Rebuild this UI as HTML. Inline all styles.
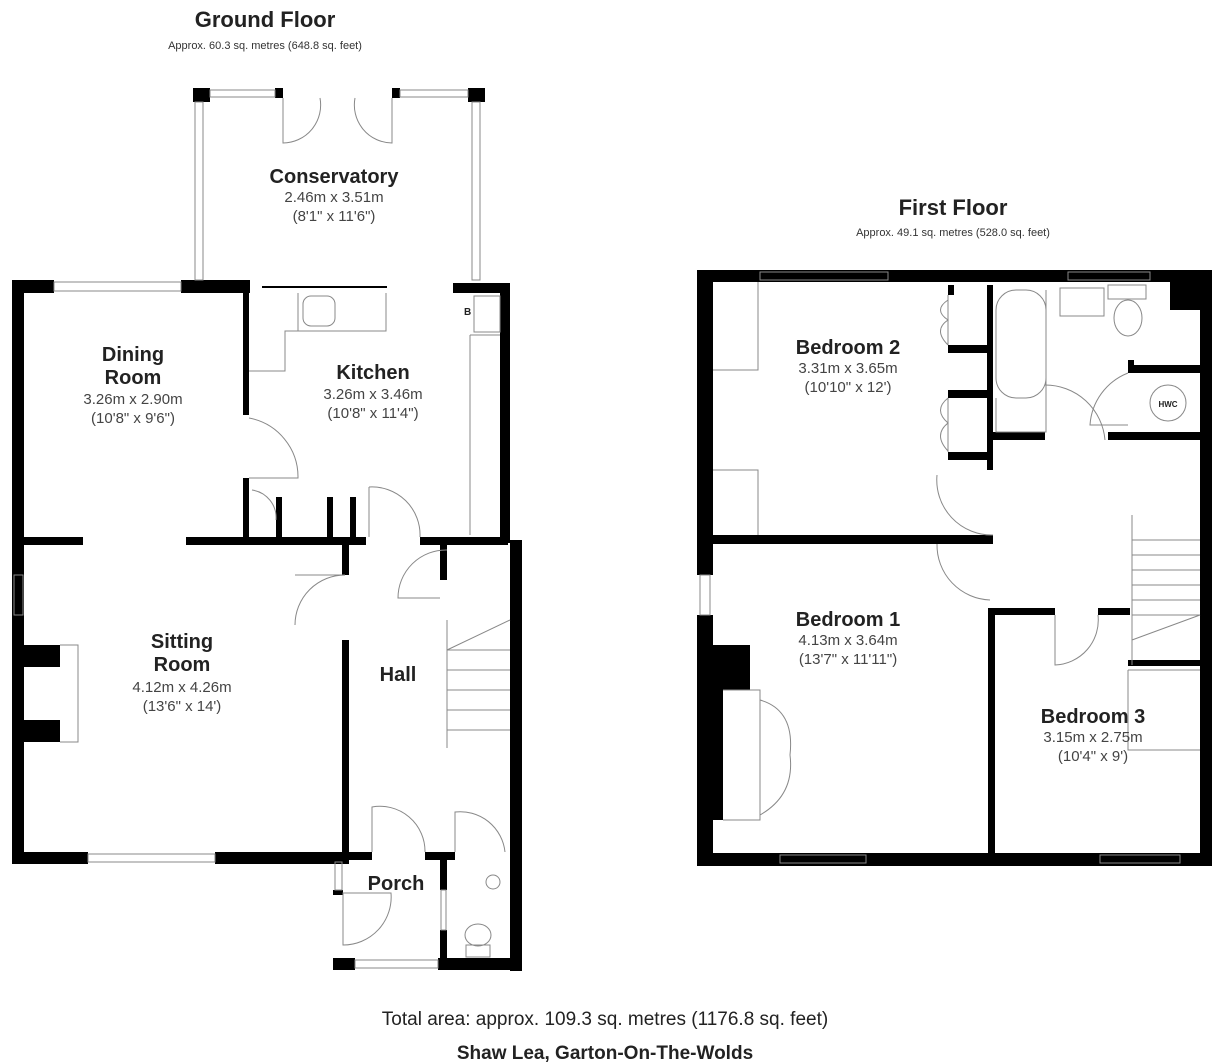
<!DOCTYPE html>
<html><head><meta charset="utf-8"><style>
html,body{margin:0;padding:0;background:#fff;width:1221px;height:1064px;overflow:hidden}
svg{display:block}
text{font-family:"Liberation Sans",Arial,sans-serif;fill:#222}
.t{font-weight:bold;font-size:20px}
.d{font-size:15px;fill:#444}
.h{font-weight:bold;font-size:22px}
.s{font-size:11px;fill:#333}
</style></head><body>
<svg width="1221" height="1064" viewBox="0 0 1221 1064">
<g fill="#000">
<!-- Ground floor outer -->
<rect x="12" y="280" width="12" height="584"/>
<rect x="12" y="280" width="42" height="13"/>
<rect x="181" y="280" width="69" height="13"/>
<rect x="453" y="283" width="55" height="10"/>
<rect x="500" y="283" width="10" height="260"/>
<rect x="510" y="540" width="12" height="431"/>
<rect x="12" y="852" width="76" height="12"/>
<rect x="215" y="852" width="134" height="12"/>
<!-- conservatory -->
<rect x="193" y="88" width="17" height="14"/>
<rect x="468" y="88" width="17" height="14"/>
<rect x="275" y="88" width="8" height="10"/>
<rect x="392" y="88" width="8" height="10"/>
<!-- interior -->
<rect x="243" y="292" width="6" height="123"/>
<rect x="243" y="478" width="6" height="62"/>
<rect x="24" y="537" width="59" height="8"/>
<rect x="186" y="537" width="180" height="8"/>
<rect x="420" y="537" width="88" height="8"/>
<rect x="276" y="497" width="6" height="42"/>
<rect x="327" y="497" width="6" height="42"/>
<rect x="350" y="497" width="6" height="42"/>
<rect x="342" y="545" width="7" height="30"/>
<rect x="342" y="640" width="7" height="224"/>
<rect x="440" y="545" width="7" height="35"/>
<rect x="24" y="645" width="36" height="22"/>
<rect x="24" y="720" width="36" height="22"/>
<!-- porch / wc -->
<rect x="346" y="852" width="26" height="8"/>
<rect x="425" y="852" width="30" height="8"/>
<rect x="333" y="852" width="10" height="10"/>
<rect x="333" y="890" width="10" height="5"/>
<rect x="333" y="958" width="22" height="12"/>
<rect x="438" y="958" width="84" height="12"/>
<rect x="440" y="852" width="7" height="38"/>
<rect x="440" y="930" width="7" height="30"/>
<!-- First floor outer -->
<rect x="697" y="270" width="515" height="12"/>
<rect x="697" y="270" width="16" height="305"/>
<rect x="697" y="615" width="16" height="251"/>
<rect x="697" y="853" width="515" height="13"/>
<rect x="1200" y="270" width="12" height="596"/>
<rect x="1170" y="270" width="42" height="40"/>
<!-- FF interior -->
<rect x="713" y="535" width="280" height="9"/>
<rect x="987" y="285" width="6" height="185"/>
<rect x="948" y="285" width="6" height="10"/>
<rect x="948" y="345" width="42" height="8"/>
<rect x="948" y="390" width="42" height="8"/>
<rect x="948" y="452" width="42" height="8"/>
<rect x="993" y="432" width="52" height="8"/>
<rect x="1128" y="365" width="72" height="8"/>
<rect x="1108" y="432" width="92" height="8"/>
<rect x="1128" y="360" width="6" height="12"/>
<rect x="988" y="608" width="67" height="7"/>
<rect x="1098" y="608" width="32" height="7"/>
<rect x="988" y="612" width="7" height="241"/>
<rect x="1128" y="660" width="72" height="6"/>
<rect x="713" y="645" width="37" height="45"/>
<rect x="713" y="690" width="10" height="130"/>
</g>
<!-- thin details -->
<g fill="none" stroke="#888" stroke-width="1">
<!-- windows GF -->
<rect x="54" y="282" width="127" height="9"/>
<rect x="210" y="90" width="65" height="7"/>
<rect x="400" y="90" width="68" height="7"/>
<rect x="195" y="102" width="8" height="178"/>
<rect x="472" y="102" width="8" height="178"/>
<rect x="88" y="854" width="127" height="8"/>
<rect x="14" y="575" width="9" height="40"/>
<rect x="355" y="960" width="83" height="8"/>
<rect x="335" y="862" width="7" height="28"/>
<rect x="441" y="890" width="5" height="40"/>
<!-- conservatory doors -->
<path d="M283 98 v45 A38 38 0 0 0 320 98 M392 98 v45 A38 38 0 0 1 355 98"/>
<!-- kitchen -->
<line x1="262" y1="287" x2="387" y2="287" stroke="#000" stroke-width="2"/>
<path d="M298 293 v38 h-13 v40 h-36 M298 331 h88 v-38"/>
<rect x="303" y="296" width="32" height="30" rx="8"/>
<rect x="474" y="296" width="26" height="36"/>
<path d="M470 335 h30 M470 335 v200"/>
<path d="M249 418 A60 60 0 0 1 298 478 h-49"/>
<path d="M369 487 A48 48 0 0 1 420 537 M369 487 v50"/>
<path d="M252 490 A28 28 0 0 1 276 520"/>
<path d="M345 575 A50 50 0 0 0 295 625 M295 575 h50"/>
<path d="M447 550 A48 48 0 0 0 398 598 h42"/>
<path d="M60 645 h18 v97 h-18"/>
<!-- stairs -->
<path d="M447 620 v128 M447 650 h63 M447 670 h63 M447 690 h63 M447 710 h63 M447 730 h63 M447 650 L510 620"/>
<!-- porch doors -->
<path d="M372 852 v-45 A45 45 0 0 1 425 852"/>
<path d="M455 852 v-40 A45 45 0 0 1 505 852"/>
<path d="M343 893 h48 A48 48 0 0 1 343 945 z"/>
<ellipse cx="478" cy="935" rx="13" ry="11"/>
<rect x="466" y="945" width="24" height="12"/>
<circle cx="493" cy="882" r="7"/>
<!-- FF windows -->
<rect x="760" y="272" width="128" height="8"/>
<rect x="1068" y="272" width="82" height="8"/>
<rect x="780" y="855" width="86" height="8"/>
<rect x="1100" y="855" width="80" height="8"/>
<rect x="700" y="575" width="10" height="40"/>
<!-- bedroom 2 furniture -->
<path d="M713 370 h45 v-88 M713 470 h45 v65"/>
<path d="M948 295 v50 M948 398 v54 M948 300 q-15 10 0 20 q-15 10 0 25 M948 398 q-15 12 0 25 q-15 12 0 28"/>
<path d="M937 475 A55 55 0 0 0 993 535"/>
<path d="M937 544 A55 55 0 0 0 990 600"/>
<!-- bathroom -->
<rect x="996" y="290" width="50" height="108" rx="20"/>
<path d="M996 398 v34 h50 v-142"/>
<rect x="1060" y="288" width="44" height="28"/>
<rect x="1108" y="285" width="38" height="14"/>
<ellipse cx="1128" cy="318" rx="14" ry="18"/>
<path d="M1045 385 A60 60 0 0 1 1105 440"/>
<path d="M1128 373 A60 60 0 0 0 1090 425 h38"/>
<circle cx="1168" cy="403" r="18"/>
<!-- stairs FF -->
<path d="M1132 515 v150 M1132 540 h68 M1132 555 h68 M1132 570 h68 M1132 585 h68 M1132 600 h68 M1132 615 h68 M1132 640 L1200 615"/>
<path d="M1055 615 v50 A45 45 0 0 0 1098 615"/>
<path d="M1128 670 h72 M1128 670 v80 h72"/>
<!-- bed1 wardrobe -->
<path d="M723 690 h37 v130 h-37 M760 700 q35 10 30 55 q5 40 -30 60"/>
</g>
<text x="464" y="315" font-size="10" font-weight="bold">B</text>
<text x="1168" y="407" font-size="8" font-weight="bold" text-anchor="middle">HWC</text>
<g text-anchor="middle">
<text x="265" y="27" class="h">Ground Floor</text>
<text x="265" y="49" class="s">Approx. 60.3 sq. metres (648.8 sq. feet)</text>
<text x="334" y="183" class="t">Conservatory</text>
<text x="334" y="202" class="d">2.46m x 3.51m</text>
<text x="334" y="221" class="d">(8'1" x 11'6")</text>
<text x="133" y="361" class="t">Dining</text>
<text x="133" y="384" class="t">Room</text>
<text x="133" y="404" class="d">3.26m x 2.90m</text>
<text x="133" y="423" class="d">(10'8" x 9'6")</text>
<text x="373" y="379" class="t">Kitchen</text>
<text x="373" y="399" class="d">3.26m x 3.46m</text>
<text x="373" y="418" class="d">(10'8" x 11'4")</text>
<text x="182" y="648" class="t">Sitting</text>
<text x="182" y="671" class="t">Room</text>
<text x="182" y="692" class="d">4.12m x 4.26m</text>
<text x="182" y="711" class="d">(13'6" x 14')</text>
<text x="398" y="681" class="t">Hall</text>
<text x="396" y="890" class="t">Porch</text>
<text x="953" y="215" class="h">First Floor</text>
<text x="953" y="236" class="s">Approx. 49.1 sq. metres (528.0 sq. feet)</text>
<text x="848" y="354" class="t">Bedroom 2</text>
<text x="848" y="373" class="d">3.31m x 3.65m</text>
<text x="848" y="392" class="d">(10'10" x 12')</text>
<text x="848" y="626" class="t">Bedroom 1</text>
<text x="848" y="645" class="d">4.13m x 3.64m</text>
<text x="848" y="664" class="d">(13'7" x 11'11")</text>
<text x="1093" y="723" class="t">Bedroom 3</text>
<text x="1093" y="742" class="d">3.15m x 2.75m</text>
<text x="1093" y="761" class="d">(10'4" x 9')</text>
<text x="605" y="1025" font-size="19" fill="#222">Total area: approx. 109.3 sq. metres (1176.8 sq. feet)</text>
<text x="605" y="1059" font-size="19" font-weight="bold">Shaw Lea, Garton-On-The-Wolds</text>
</g>
</svg>
</body></html>
